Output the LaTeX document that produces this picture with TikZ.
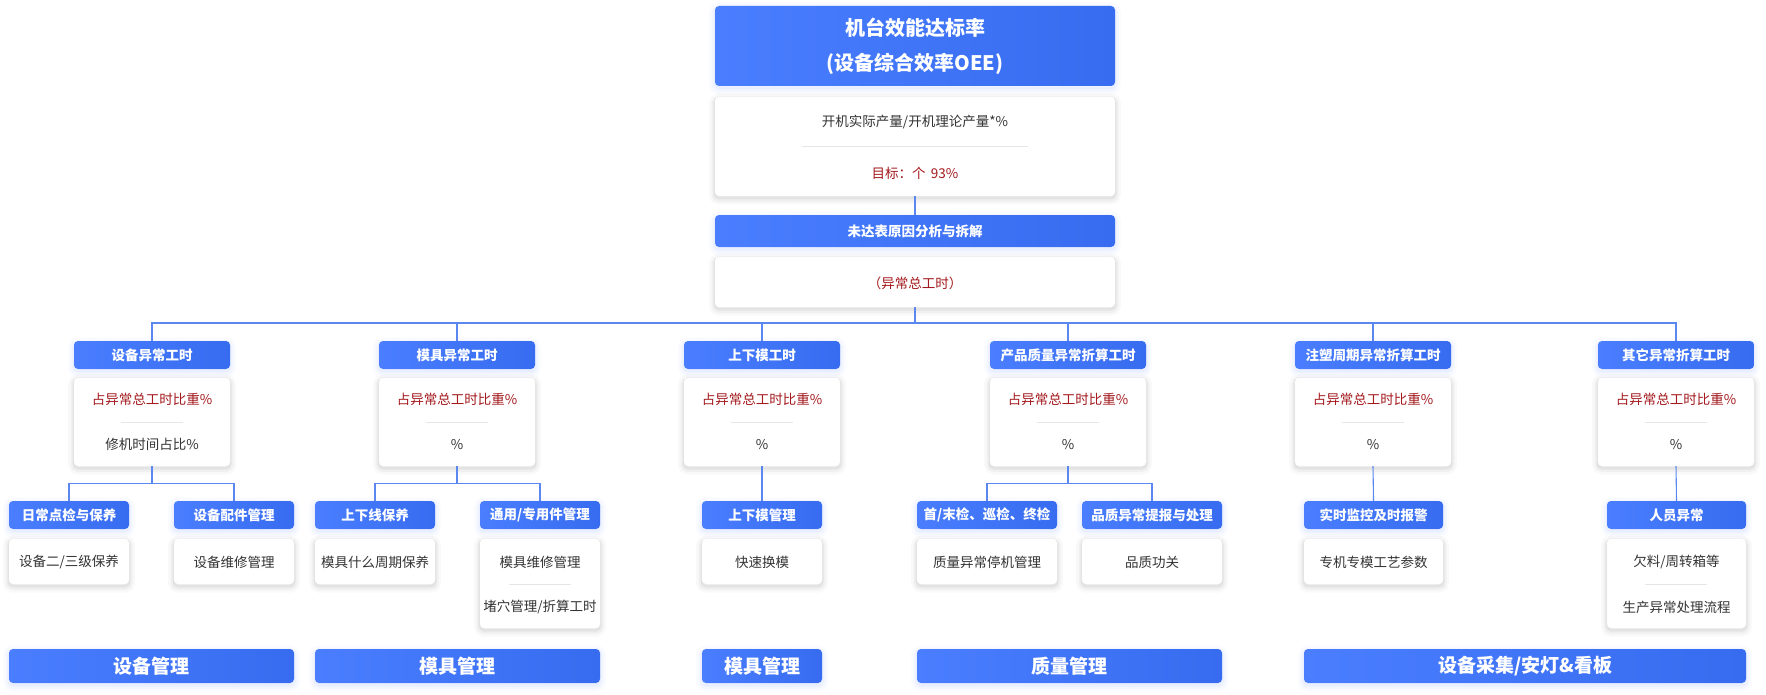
\documentclass[tikz,border=0pt]{standalone}
\usepackage{fontspec}
\setmainfont{Noto Sans CJK SC}
\usetikzlibrary{calc}
\definecolor{blA}{HTML}{4A7EFF}
\definecolor{blB}{HTML}{386CF0}
\definecolor{cnc}{HTML}{5B88F0}
\definecolor{redt}{HTML}{A3191D}
\definecolor{txt}{HTML}{333333}
\definecolor{sepc}{HTML}{E4E6EA}
\begin{document}
\begin{tikzpicture}[x=1pt,y=-1pt,
  glow/.style={
    preaction={draw=#1, line width=12pt, draw opacity=0.025, transform canvas={yshift=-2.5pt}},
    preaction={draw=#1, line width=7pt, draw opacity=0.035, transform canvas={yshift=-2.5pt}},
    preaction={draw=#1, line width=3pt, draw opacity=0.05, transform canvas={yshift=-2pt}}},
  bluebox/.style={glow=blA, rounded corners=4pt, left color=blA, right color=blB, draw=none,
    text=white, inner sep=0pt, font=\bfseries\fontsize{13.5}{16}\selectfont},
  card/.style={glow=black, rounded corners=4pt, fill=white, draw=none, inner sep=0pt},
  hdr/.style={bluebox, minimum width=156pt, minimum height=28pt},
  sub/.style={bluebox, minimum width=#1, minimum height=28pt},
  bot/.style={bluebox, minimum width=#1, minimum height=34pt, font=\bfseries\fontsize{19}{22}\selectfont},
  rt/.style={text=redt, inner sep=0pt, font=\fontsize{13.5}{16}\selectfont},
  bt/.style={text=txt, inner sep=0pt, font=\fontsize{13.5}{16}\selectfont},
  sepl/.style={draw=sepc, line width=0.8pt},
  cn/.style={draw=cnc, line width=1.1pt}
]
\fill[white] (0,0) rectangle (1766,695);
\useasboundingbox (0,0) rectangle (1766,695);

% ---------- top ----------
\node[bluebox, minimum width=400pt, minimum height=80pt, align=center,
      font=\bfseries\fontsize{20}{35}\selectfont] (title) at (915,46)
      {机台效能达标率\\(设备综合效率OEE)};
\node[card, minimum width=400pt, minimum height=99pt] (oee) at (915,146.5) {};
\node[bt] (oeet) at (915,122) {开机实际产量/开机理论产量*\%};
\node[rt] (goal) at (915,173) {目标：个 \,93\%};
\draw[sepl] (802,146) -- (1028,146);
\node[bluebox, minimum width=400pt, minimum height=32pt, font=\bfseries\fontsize{13.5}{16}\selectfont] (ana) at (915,231) {未达表原因分析与拆解};
\node[card, minimum width=400pt, minimum height=50pt] (tot) at (915,282) {};
\node[rt] (tott) at (915,283) {（异常总工时）};
\draw[cn] (oee.south) -- (ana.north);
\coordinate (bus) at (915,323);
\draw[cn] (tot.south) -- (bus);

% ---------- level 1 ----------
\foreach \i/\cx/\t/\b in {1/152/设备异常工时/修机时间占比\%,
                          2/457/模具异常工时/\%,
                          3/762/上下模工时/\%,
                          4/1068/产品质量异常折算工时/\%,
                          5/1373/注塑周期异常折算工时/\%,
                          6/1676/其它异常折算工时/\%}{
  \node[hdr] (h\i) at (\cx,355) {\t};
  \node[card, minimum width=156pt, minimum height=88pt] (w\i) at (\cx,422) {};
  \node[rt] (r\i) at (\cx,399.5) {占异常总工时比重\%};
  \node[bt] (b\i) at (\cx,444.5) {\b};
  \draw[sepl] (\cx-31,422) -- (\cx+31,422);
}
\draw[cn] (h1.north) -- (h1.north |- bus) -- (h6.north |- bus) -- (h6.north);
\foreach \i in {2,...,5}{\draw[cn] (h\i.north) -- (h\i.north |- bus);}

% ---------- level 2 ----------
% group 1
\node[sub=120pt] (s11) at (69,515) {日常点检与保养};
\node[card, minimum width=120pt, minimum height=45pt] (c11) at (69,561.5) {};
\node[bt] (t11) at (69,562) {设备二/三级保养};
\node[sub=120pt] (s12) at (234,515) {设备配件管理};
\node[card, minimum width=120pt, minimum height=45pt] (c12) at (234,561.5) {};
\node[bt] (t12) at (234,562) {设备维修管理};
\draw[cn] (w1.south) -- ++(0,17);
\draw[cn] (s11.north) |- ($(w1.south)+(0,17)$) -| (s12.north);

% group 2
\node[sub=120pt] (s21) at (375,515) {上下线保养};
\node[card, minimum width=120pt, minimum height=45pt] (c21) at (375,561.5) {};
\node[bt] (t21) at (375,562) {模具什么周期保养};
\node[sub=120pt] (s22) at (540,515) {通用/专用件管理};
\node[card, minimum width=120pt, minimum height=89pt] (c22) at (540,583.5) {};
\node[bt] (t22) at (540,562) {模具维修管理};
\node[bt] (t23) at (540,607) {堵穴管理/折算工时};
\draw[sepl] (509,584) -- (571,584);
\draw[cn] (w2.south) -- ++(0,17);
\draw[cn] (s21.north) |- ($(w2.south)+(0,17)$) -| (s22.north);

% group 3
\node[sub=120pt] (s31) at (762,515) {上下模管理};
\node[card, minimum width=120pt, minimum height=45pt] (c31) at (762,561.5) {};
\node[bt] (t31) at (762,562) {快速换模};
\draw[cn] (w3.south) -- (s31.north);

% group 4
\node[sub=140pt] (s41) at (987,515) {首/末检、巡检、终检};
\node[card, minimum width=140pt, minimum height=45pt] (c41) at (987,561.5) {};
\node[bt] (t41) at (987,562) {质量异常停机管理};
\node[sub=140pt] (s42) at (1152,515) {品质异常提报与处理};
\node[card, minimum width=140pt, minimum height=45pt] (c42) at (1152,561.5) {};
\node[bt] (t42) at (1152,562) {品质功关};
\draw[cn] (w4.south) -- ++(0,17);
\draw[cn] (s41.north) |- ($(w4.south)+(0,17)$) -| (s42.north);

% group 5
\node[sub=139pt] (s51) at (1373.5,515) {实时监控及时报警};
\node[card, minimum width=139pt, minimum height=45pt] (c51) at (1373.5,561.5) {};
\node[bt] (t51) at (1373.5,562) {专机专模工艺参数};
\draw[cn] (w5.south) -- (s51.north);

% group 6
\node[sub=139pt] (s61) at (1676.5,515) {人员异常};
\node[card, minimum width=139pt, minimum height=89pt] (c61) at (1676.5,583.5) {};
\node[bt] (t61) at (1676.5,562) {欠料/周转箱等};
\node[bt] (t62) at (1676.5,607) {生产异常处理流程};
\draw[sepl] (1645,584) -- (1707,584);
\draw[cn] (w6.south) -- (s61.north);

% ---------- bottom bars ----------
\node[bot=285pt] (m1) at (151.5,666) {设备管理};
\node[bot=285pt] (m2) at (457.5,666) {模具管理};
\node[bot=120pt] (m3) at (762,666) {模具管理};
\node[bot=305pt] (m4) at (1069.5,666) {质量管理};
\node[bot=442pt] (m5) at (1525,666) {设备采集/安灯\&看板};
\end{tikzpicture}
\end{document}
